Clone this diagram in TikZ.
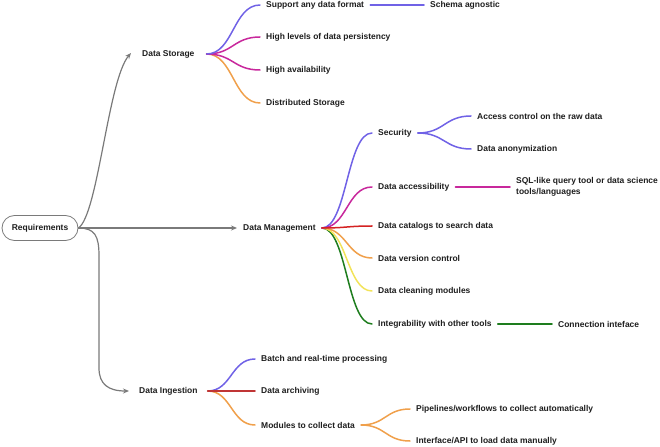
\documentclass[tikz,border=0pt]{standalone}
\usepackage{fontspec}
\setmainfont{Liberation Sans}
\usetikzlibrary{arrows.meta,calc}
\definecolor{txtc}{HTML}{1E1E1E}
\definecolor{arrowc}{HTML}{7A7A7A}
\definecolor{cviolet}{HTML}{7062E6}
\definecolor{cmag}{HTML}{C8289C}
\definecolor{corange}{HTML}{F0A04B}
\definecolor{cred}{HTML}{D42222}
\definecolor{cdred}{HTML}{C03535}
\definecolor{cyellow}{HTML}{F2E35A}
\definecolor{cgreen}{HTML}{1E7D1E}
\begin{document}
\begin{tikzpicture}[x=1bp,y=-1bp,
  txt/.style={anchor=west,inner xsep=6bp,inner ysep=2bp,font=\fontsize{8.5}{10.5}\selectfont\bfseries,text=txtc},
  reqbox/.style={draw=arrowc,line width=0.8bp,rounded corners=12.5bp,minimum width=76bp,minimum height=25bp,inner sep=0pt,font=\fontsize{8.5}{10.5}\selectfont\bfseries,text=txtc},
  main/.style={draw=arrowc,line width=1.2bp,-{Stealth[length=6bp,width=5bp]}},
  br/.style={line width=1.5bp,line cap=round},
  sc/.style={to path={let \p1=(\tikztostart),\p2=(\tikztotarget) in (\p1) .. controls ({(\x1+\x2)/2},\y1) and ({(\x1+\x2)/2},\y2) .. (\p2)}},
]
\useasboundingbox (0,0) rectangle (660,447);

% root and main branches
\node[reqbox] (req) at (40,228) {Requirements};
\node[txt] (ds) at (136,54) {Data Storage};
\node[txt] (dm) at (237,228) {Data Management};
\node[txt] (di) at (133,391) {Data Ingestion};
\coordinate (dsend) at ([xshift=-5bp,yshift=1bp]ds.west);
\coordinate (diend) at ([xshift=-4bp]di.west);

\draw[main] (req.east) .. controls (98,215) and (108,80) .. (dsend);
\draw[main] (req.east) -- (dm.west);
\draw[main] (req.east) .. controls (95,228) and (99,236) .. (99,256) -- (99,368) .. controls (99,384) and (108,391) .. (diend);

% Data Storage
\node[txt] (ds1) at (260,5) {Support any data format};
\node[txt] (ds2) at (260,37) {High levels of data persistency};
\node[txt] (ds3) at (260,70) {High availability};
\node[txt] (ds4) at (260,103) {Distributed Storage};
\node[txt] (ds1a) at (424,5) {Schema agnostic};
\coordinate (dsb) at ([xshift=6bp]ds.east);
\draw[br,corange] (dsb) to[sc] (ds4.west);
\draw[br,cmag] (dsb) to[sc] (ds3.west);
\draw[br,cmag] (dsb) to[sc] (ds2.west);
\draw[br,cviolet] (dsb) to[sc] (ds1.west);
\draw[br,cviolet] (ds1.east) -- (ds1a.west);

% Data Management
\node[txt] (dm1) at (372,133) {Security};
\node[txt] (dm2) at (372,187) {Data accessibility};
\node[txt] (dm3) at (372,226) {Data catalogs to search data};
\node[txt] (dm4) at (372,258) {Data version control};
\node[txt] (dm5) at (372,291) {Data cleaning modules};
\node[txt] (dm6) at (372,324) {Integrability with other tools};
\node[txt] (s1) at (471,116) {Access control on the raw data};
\node[txt] (s2) at (471,149) {Data anonymization};
\node[txt,align=left] (dm2a) at (510,187) {SQL-like query tool or data science\\tools/languages};
\node[txt] (dm6a) at (552,324) {Connection inteface};
\coordinate (dmb) at (dm.east);
\draw[br,cgreen] (dmb) to[sc] (dm6.west);
\draw[br,cyellow] (dmb) to[sc] (dm5.west);
\draw[br,corange] (dmb) to[sc] (dm4.west);
\draw[br,cviolet] (dmb) to[sc] (dm1.west);
\draw[br,cmag] (dmb) to[sc] (dm2.west);
\draw[br,cred] (dmb) to[sc] (dm3.west);
\draw[br,cviolet] (dm1.east) to[sc] (s1.west);
\draw[br,cviolet] (dm1.east) to[sc] (s2.west);
\draw[br,cmag] (dm2.east) -- (dm2a.west);
\draw[br,cgreen] (dm6.east) -- (dm6a.west);

% Data Ingestion
\node[txt] (di1) at (255,359) {Batch and real-time processing};
\node[txt] (di2) at (255,391) {Data archiving};
\node[txt] (di3) at (255,425) {Modules to collect data};
\node[txt] (m1) at (410,409) {Pipelines/workflows to collect automatically};
\node[txt] (m2) at (410,441) {Interface/API to load data manually};
\coordinate (dib) at ([xshift=4bp]di.east);
\draw[br,cviolet] (dib) to[sc] (di1.west);
\draw[br,corange] (dib) to[sc] (di3.west);
\draw[br,cdred] (dib) -- (di2.west);
\draw[br,corange] (di3.east) to[sc] (m1.west);
\draw[br,corange] (di3.east) to[sc] (m2.west);
\end{tikzpicture}
\end{document}
